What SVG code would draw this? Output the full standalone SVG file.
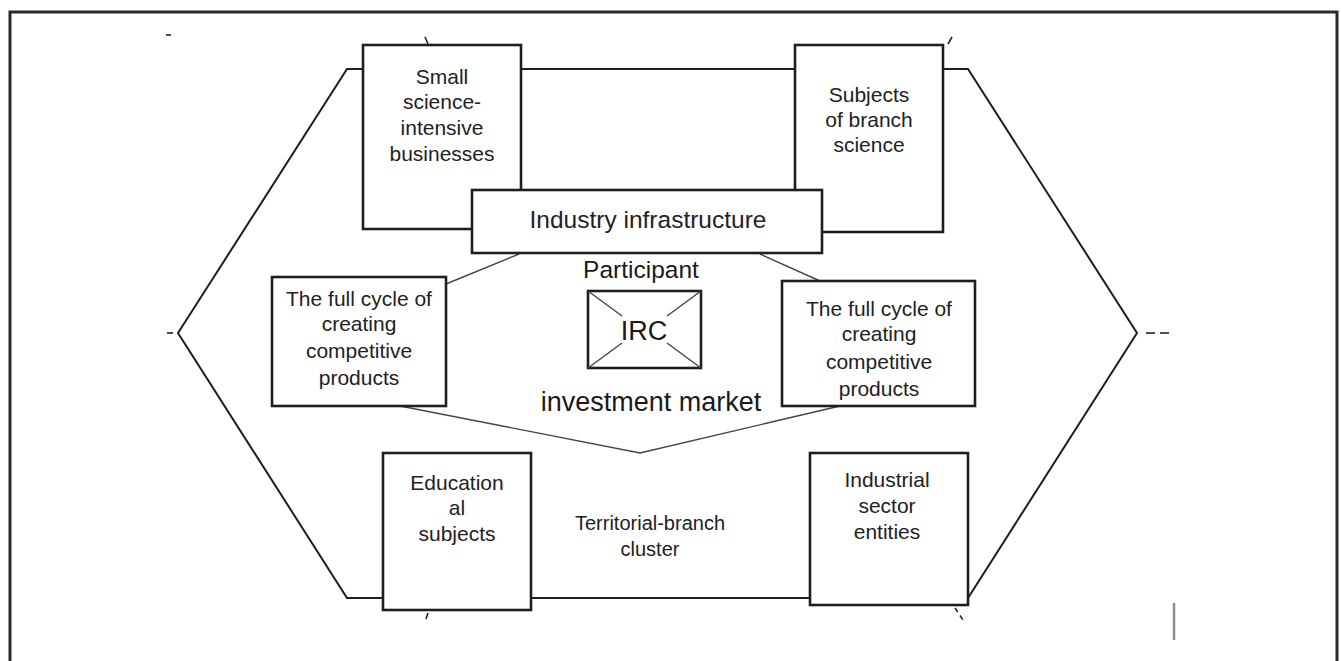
<svg xmlns="http://www.w3.org/2000/svg" width="1341" height="661" viewBox="0 0 1341 661">
<style>
.bg{fill:#ffffff}
.frame{fill:none;stroke:#2a2a2a;stroke-width:3}
.hex{fill:none;stroke:#1e1e1e;stroke-width:2}
.box{fill:#ffffff;stroke:#1e1e1e;stroke-width:2.6}
.conn{fill:none;stroke:#444;stroke-width:1.4}
.tick{fill:none;stroke:#222;stroke-width:1.6}
.t{font-family:"Liberation Sans",Arial,sans-serif;fill:#222;text-anchor:middle;font-size:21px}
.tl{font-family:"Liberation Sans",Arial,sans-serif;fill:#1a1a1a;text-anchor:middle;font-size:24.5px}
</style>
<rect class="bg" x="0" y="0" width="1341" height="661"/>
<path class="frame" d="M10,661 V12 H1337 V661"/>
<g id="marks">
<line class="tick" x1="166" y1="35" x2="171" y2="35"/>
<line class="tick" x1="425" y1="37" x2="428" y2="44"/>
<line class="tick" x1="948" y1="44" x2="952" y2="37"/>
<line class="tick" x1="167" y1="333" x2="173" y2="333"/>
<line class="tick" x1="1146" y1="333" x2="1155" y2="333"/>
<line class="tick" x1="1160" y1="333" x2="1169" y2="333"/>
<line class="tick" x1="428" y1="613" x2="426" y2="619"/>
<line class="tick" x1="955" y1="608" x2="965" y2="623" stroke-dasharray="5 4"/>
<line x1="1174" y1="603" x2="1174" y2="640" stroke="#8a8f94" stroke-width="2.5"/>
</g>
<g id="cluster-outline">
<polygon class="hex" points="178,333 347,69 968,69 1137,333 968,598 347,598"/>
</g>
<g id="connectors">
<line class="conn" x1="519" y1="254" x2="446" y2="284"/>
<line class="conn" x1="760" y1="254" x2="820" y2="281"/>
<polyline class="conn" points="400,406 640,453 840,406"/>
</g>
<g id="small-science">
<rect class="box" x="363" y="45" width="158" height="184"/>
<text class="t" x="442" y="84">Small</text>
<text class="t" x="442" y="109">science-</text>
<text class="t" x="442" y="135">intensive</text>
<text class="t" x="442" y="161">businesses</text>
</g>
<g id="branch-science">
<rect class="box" x="795" y="45" width="148" height="187"/>
<text class="t" x="869" y="102">Subjects</text>
<text class="t" x="869" y="127">of branch</text>
<text class="t" x="869" y="152">science</text>
</g>
<g id="industry-infrastructure">
<rect class="box" x="472" y="190" width="350" height="63"/>
<text class="t" x="648" y="228" style="font-size:24.5px">Industry infrastructure</text>
</g>
<g id="full-cycle-left">
<rect class="box" x="272" y="277" width="174" height="129"/>
<text class="t" x="359" y="306">The full cycle of</text>
<text class="t" x="359" y="331">creating</text>
<text class="t" x="359" y="358">competitive</text>
<text class="t" x="359" y="385">products</text>
</g>
<g id="full-cycle-right">
<rect class="box" x="782" y="281" width="193" height="125"/>
<text class="t" x="879" y="316">The full cycle of</text>
<text class="t" x="879" y="341">creating</text>
<text class="t" x="879" y="369">competitive</text>
<text class="t" x="879" y="396">products</text>
</g>
<g id="irc">
<text class="tl" x="641" y="278">Participant</text>
<rect class="box" x="588" y="291" width="113" height="77" stroke-width="2.2"/>
<line class="conn" x1="588" y1="291" x2="622" y2="316"/>
<line class="conn" x1="701" y1="291" x2="667" y2="316"/>
<line class="conn" x1="588" y1="368" x2="622" y2="343"/>
<line class="conn" x1="701" y1="368" x2="667" y2="343"/>
<text class="tl" x="644" y="340" style="font-size:27px">IRC</text>
<text class="tl" x="651" y="411" style="font-size:27px">investment market</text>
</g>
<g id="educational">
<rect class="box" x="383" y="453" width="148" height="157"/>
<text class="t" x="457" y="490">Education</text>
<text class="t" x="457" y="515">al</text>
<text class="t" x="457" y="541">subjects</text>
</g>
<g id="territorial-cluster">
<text class="t" x="650" y="530" style="font-size:20px">Territorial-branch</text>
<text class="t" x="650" y="556" style="font-size:20px">cluster</text>
</g>
<g id="industrial-sector">
<rect class="box" x="810" y="453" width="158" height="152"/>
<text class="t" x="887" y="487">Industrial</text>
<text class="t" x="887" y="513">sector</text>
<text class="t" x="887" y="539">entities</text>
</g>
</svg>
